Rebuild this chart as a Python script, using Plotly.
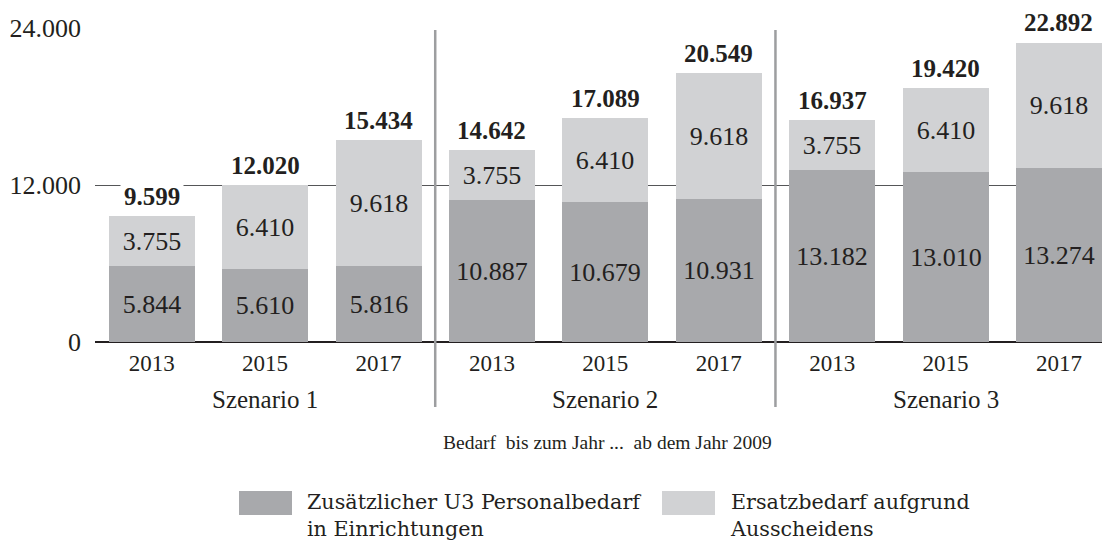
import plotly.graph_objects as go

# ---------------- data ----------------
years = ["2013", "2015", "2017"] * 3
scenarios = ["Szenario 1", "Szenario 2", "Szenario 3"]
zusaetzlich = [5844, 5610, 5816, 10887, 10679, 10931, 13182, 13010, 13274]
ersatz = [3755, 6410, 9618, 3755, 6410, 9618, 3755, 6410, 9618]
totals = [9599, 12020, 15434, 14642, 17089, 20549, 16937, 19420, 22892]
y_ticks = [0, 12000, 24000]
y_tick_labels = ["0", "12.000", "24.000"]
series_names = ["Zusätzlicher U3 Personalbedarf<br>in Einrichtungen",
                "Ersatzbedarf aufgrund<br>Ausscheidens"]
subtitle = "Bedarf&nbsp; bis zum Jahr ...&nbsp; ab dem Jahr 2009"

# ---------------- style ----------------
OFF = 8  # page body margin of the browser
W, H = 1110 - OFF, 543 - OFF
ML, MR, MT, MB = 95 - OFF, 0, 28 - OFF, 201
PW, PH = W - ML - MR, H - MT - MB
DARK = "#a8a9ac"
LIGHT = "#d1d2d4"
INK = "#231f20"
FONT = "Liberation Serif"
LEG_FONT = "DejaVu Serif"


def fmt(v):
    return f"{v:,}".replace(",", ".")


def px_x(p):
    return (p - OFF - ML) / PW


def px_y(p):
    return (H - MB - (p - OFF)) / PH


xpos = list(range(len(years)))

fig = go.Figure()
fig.add_trace(go.Bar(
    x=xpos, y=zusaetzlich, name=series_names[0], marker_color=DARK,
    marker_line_width=0, width=0.758,
    text=[fmt(v) for v in zusaetzlich], textposition="inside",
    insidetextanchor="middle", textangle=0, constraintext="none",
    textfont=dict(family=FONT, size=26, color=INK), showlegend=False,
))
fig.add_trace(go.Bar(
    x=xpos, y=ersatz, name=series_names[1], marker_color=LIGHT,
    marker_line_width=0, width=0.758,
    text=[fmt(v) for v in ersatz], textposition="inside",
    insidetextanchor="middle", textangle=0, constraintext="none",
    textfont=dict(family=FONT, size=26, color=INK), showlegend=False,
))

annotations = []
for i, t in enumerate(totals):
    annotations.append(dict(
        x=xpos[i], y=t, xref="x", yref="y", text=fmt(t), showarrow=False,
        yanchor="bottom", yshift=2, bgcolor="white", borderpad=3,
        font=dict(family=FONT, size=25, color=INK, weight="bold"),
    ))
for k, s in enumerate(scenarios):
    annotations.append(dict(
        x=xpos[3 * k + 1], y=px_y(399), xref="x", yref="paper", text=s,
        showarrow=False, yanchor="middle", xanchor="center",
        font=dict(family=FONT, size=25, color=INK),
    ))
annotations.append(dict(
    x=px_x(607.5), y=px_y(442), xref="paper", yref="paper", text=subtitle,
    showarrow=False, xanchor="center", yanchor="middle",
    font=dict(family=FONT, size=19.5, color=INK),
))

shapes = []
for k in range(1, len(scenarios)):
    xs = (xpos[3 * k - 1] + xpos[3 * k]) / 2
    shapes.append(dict(
        type="line", xref="x", yref="paper", x0=xs, x1=xs,
        y0=px_y(407), y1=px_y(30), line=dict(color="#9d9ea0", width=2.5),
        layer="above",
    ))

# custom legend
legend_items = [(239, 292, 305, DARK, series_names[0]),
                (662, 715, 728, LIGHT, series_names[1])]
for x0, x1, xt, col, name in legend_items:
    shapes.append(dict(
        type="rect", xref="paper", yref="paper",
        x0=px_x(x0), x1=px_x(x1), y0=px_y(515), y1=px_y(491),
        fillcolor=col, line=dict(width=0),
    ))
    annotations.append(dict(
        x=px_x(xt), y=px_y(515), xref="paper", yref="paper", text=name,
        showarrow=False, xanchor="left", yanchor="middle", align="left",
        font=dict(family=LEG_FONT, size=20.7, color=INK),
    ))

fig.update_layout(
    width=W, height=H,
    margin=dict(l=ML, r=MR, t=MT, b=MB, pad=0),
    barmode="stack", bargap=0,
    plot_bgcolor="white", paper_bgcolor="white",
    font=dict(family=FONT, color=INK),
    annotations=annotations, shapes=shapes,
    showlegend=False,
)
fig.update_xaxes(
    range=[-0.5, 8.45], tickmode="array", tickvals=xpos, ticktext=years,
    showgrid=False, zeroline=False, showline=False, ticks="",
    tickfont=dict(family=FONT, size=23, color=INK), ticklabelstandoff=5,
)
fig.update_yaxes(
    range=[0, 24000], tickmode="array", tickvals=y_ticks, ticktext=y_tick_labels,
    showgrid=True, gridcolor="#555658", gridwidth=1.2,
    zeroline=True, zerolinecolor=INK, zerolinewidth=1.6,
    showline=False, ticks="",
    tickfont=dict(family=FONT, size=26, color=INK), ticklabelstandoff=13,
)

fig.write_html("out.html")
